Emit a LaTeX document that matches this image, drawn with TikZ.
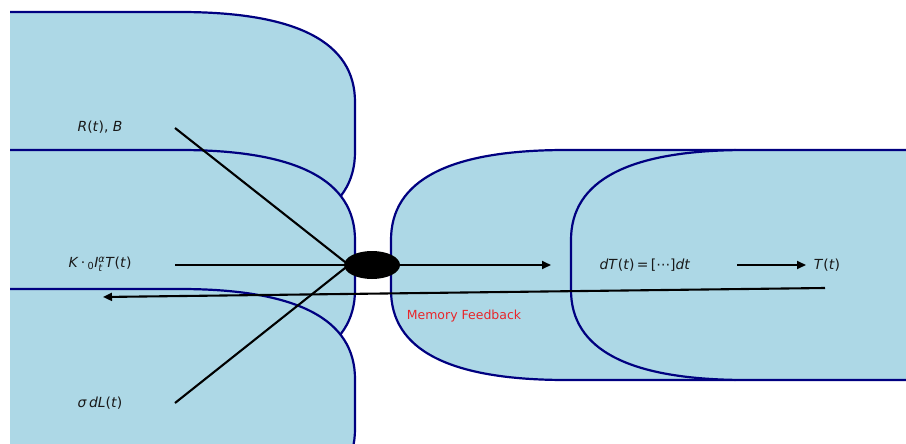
\documentclass[tikz,border=0pt]{standalone}
\usepackage{fontspec}
\setmainfont{DejaVu Sans}
\usepackage{amsmath}
\usetikzlibrary{arrows.meta,shapes.geometric}
\definecolor{boxfill}{HTML}{ADD8E6}
\definecolor{boxedge}{HTML}{000080}
\definecolor{fbred}{HTML}{E8262A}
\pgfdeclarelayer{bg}
\pgfdeclarelayer{mid}
\pgfsetlayers{bg,mid,main}
\tikzset{
  bubble/.style={fill=boxfill, draw=boxedge, line width=2.2pt},
  lbl/.style={font=\fontsize{13.9}{16}\selectfont, inner sep=0pt, text=black!90},
  fblbl/.style={font=\fontsize{12.5}{14}\selectfont, inner sep=0pt, text=fbred},
  link/.style={line width=2.1pt, black},
  arr/.style={link, -{Triangle[length=9pt,width=8pt]}},
  hubshape/.style={ellipse, fill=black, minimum width=56pt, minimum height=28pt, inner sep=0pt}
}
% rounded box with quadratic corners (rx=175, ry=90)
\newcommand\rndbox[4]{%
  \path[bubble] ({#1+175},#2) -- ({#3-175},#2)
    .. controls ({#3-175/3},#2) and (#3,{#2+30}) .. (#3,{#2+90})
    -- (#3,{#4-90})
    .. controls (#3,{#4-30}) and ({#3-175/3},#4) .. ({#3-175},#4)
    -- ({#1+175},#4)
    .. controls ({#1+175/3},#4) and (#1,{#4-30}) .. (#1,{#4-90})
    -- (#1,{#2+90})
    .. controls (#1,{#2+30}) and ({#1+175/3},#2) .. cycle;}
\begin{document}
\begin{tikzpicture}[x=1pt,y=-1pt]
\useasboundingbox (0,0) rectangle (906,444);
\begin{pgfonlayer}{bg}
  \begin{scope}
    \clip (10,0) rectangle (906,444);
    \rndbox{-155}{12}{355}{242}
    \rndbox{-155}{150}{355}{380}
    \rndbox{-155}{289}{355}{519}
    \rndbox{391}{150}{899}{380}
    \rndbox{571}{150}{1083}{380}
  \end{scope}
\end{pgfonlayer}

% labels
\node[lbl] (rb) at (100,127) {\textit{R}(\textit{t}), \textit{B}};
\node[lbl] (kt) at (100,264) {\textit{K}\,·\,$_{\text{0}}$\textit{I}$^{\text{\itshape α}}_{\text{\itshape t}}$\textit{T}(\textit{t})};
\node[lbl] (sd) at (100,403) {\textit{σ}\,\textit{dL}(\textit{t})};
\node[lbl] (de) at (645,265) {\textit{dT}(\textit{t})\,=\,[⋯]\textit{dt}};
\node[lbl] (tt) at (827,265) {\textit{T}(\textit{t})};
\node[fblbl] (mf) at (464,316) {Memory Feedback};

% hub
\node[hubshape] (hub) at (372,265) {};

% connector end points
\coordinate (rbs) at (175,128);
\coordinate (kts) at (175,265);
\coordinate (sds) at (175,403);
\coordinate (hubout) at (551,265);
\coordinate (des) at (737,265);
\coordinate (tte) at (806,265);
\coordinate (fbs) at (825,288);
\coordinate (fbe) at (103,297);

\begin{pgfonlayer}{mid}
  \draw[link] (rbs) -- ([xshift=5pt]hub.west);
  \draw[link] (kts) -- ([xshift=5pt]hub.west);
  \draw[link] (sds) -- ([xshift=5pt]hub.west);
  \draw[arr] (hub.east) -- (hubout);
  \draw[arr] (des) -- (tte);
  \draw[arr] (fbs) -- (fbe);
\end{pgfonlayer}
\end{tikzpicture}
\end{document}
